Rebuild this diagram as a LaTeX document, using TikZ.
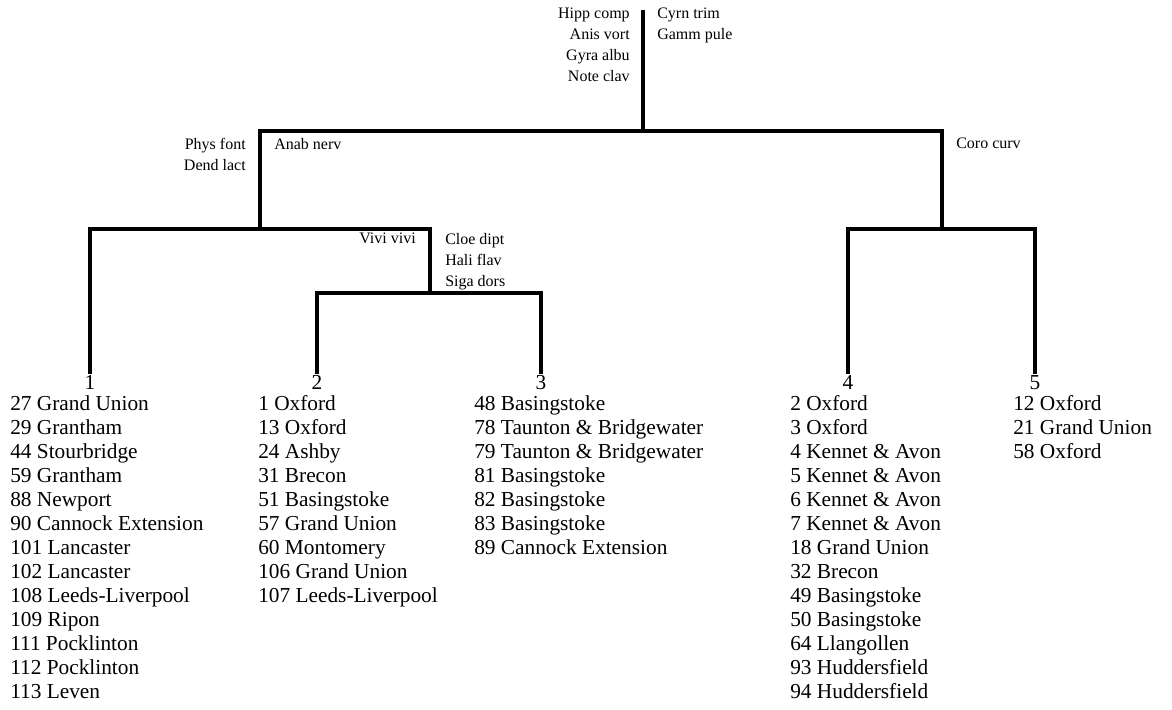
\documentclass[tikz,border=0pt]{standalone}
\usepackage{fontspec}
\setmainfont{Liberation Serif}
\begin{document}
\begin{tikzpicture}[x=0.75pt,y=-0.75pt,
    branch/.style={line width=2.4pt},
    splitlab/.style={font=\fontsize{12}{15.75}\selectfont, inner sep=0pt},
    leafnum/.style={font=\fontsize{16}{18}\selectfont, inner sep=1pt, anchor=north},
    leaflist/.style={font=\fontsize{16}{18}\selectfont, inner sep=0pt, align=left, anchor=north west}]
    \useasboundingbox (0,0) rectangle (1172,710);

    % Joints of the tree
    \coordinate (top) at (643,10);
    \coordinate (root) at (643,131);
    \coordinate (left) at (260,229);
    \coordinate (right) at (942,229);
    \coordinate (mid) at (430,293);

    % Leaf numbers
    \node[leafnum] (k1) at (90,374) {1};
    \node[leafnum] (k2) at (317,374) {2};
    \node[leafnum] (k3) at (541,374) {3};
    \node[leafnum] (k4) at (848,374) {4};
    \node[leafnum] (k5) at (1035,374) {5};

    % Branches
    \draw[branch] (top) -- (root);
    \draw[branch] (root) -| (left);
    \draw[branch] (root) -| (right);
    \draw[branch] (left) -| (k1.north);
    \draw[branch] (left) -| (mid);
    \draw[branch] (mid) -| (k2.north);
    \draw[branch] (mid) -| (k3.north);
    \draw[branch] (right) -| (k4.north);
    \draw[branch] (right) -| (k5.north);

    % Split labels
    \node[splitlab, anchor=north east, align=right] (s0l) at (630,8) {Hipp comp\\Anis vort\\Gyra albu\\Note clav};
    \node[splitlab, anchor=north west, align=left] (s0r) at (657,8) {Cyrn trim\\Gamm pule};
    \node[splitlab, anchor=north east, align=right] (s1l) at (246,138) {Phys font\\Dend lact};
    \node[splitlab, anchor=north west] (s1r) at (274,138) {Anab nerv};
    \node[splitlab, anchor=north west] (s2r) at (956,138) {Coro curv};
    \node[splitlab, anchor=north east] (s3l) at (416,233) {Vivi vivi};
    \node[splitlab, anchor=north west, align=left] (s3r) at (445,233) {Cloe dipt\\Hali flav\\Siga dors};

    % Leaf members
    \node[leaflist] (m1) at (10,395) {27 Grand Union\\29 Grantham\\44 Stourbridge\\59 Grantham\\88 Newport\\90 Cannock Extension\\101 Lancaster\\102 Lancaster\\108 Leeds-Liverpool\\109 Ripon\\111 Pocklinton\\112 Pocklinton\\113 Leven};
    \node[leaflist] (m2) at (258,395) {1 Oxford\\13 Oxford\\24 Ashby\\31 Brecon\\51 Basingstoke\\57 Grand Union\\60 Montomery\\106 Grand Union\\107 Leeds-Liverpool};
    \node[leaflist] (m3) at (474,395) {48 Basingstoke\\78 Taunton \& Bridgewater\\79 Taunton \& Bridgewater\\81 Basingstoke\\82 Basingstoke\\83 Basingstoke\\89 Cannock Extension};
    \node[leaflist] (m4) at (790,395) {2 Oxford\\3 Oxford\\4 Kennet \& Avon\\5 Kennet \& Avon\\6 Kennet \& Avon\\7 Kennet \& Avon\\18 Grand Union\\32 Brecon\\49 Basingstoke\\50 Basingstoke\\64 Llangollen\\93 Huddersfield\\94 Huddersfield};
    \node[leaflist] (m5) at (1013,395) {12 Oxford\\21 Grand Union\\58 Oxford};
\end{tikzpicture}
\end{document}
